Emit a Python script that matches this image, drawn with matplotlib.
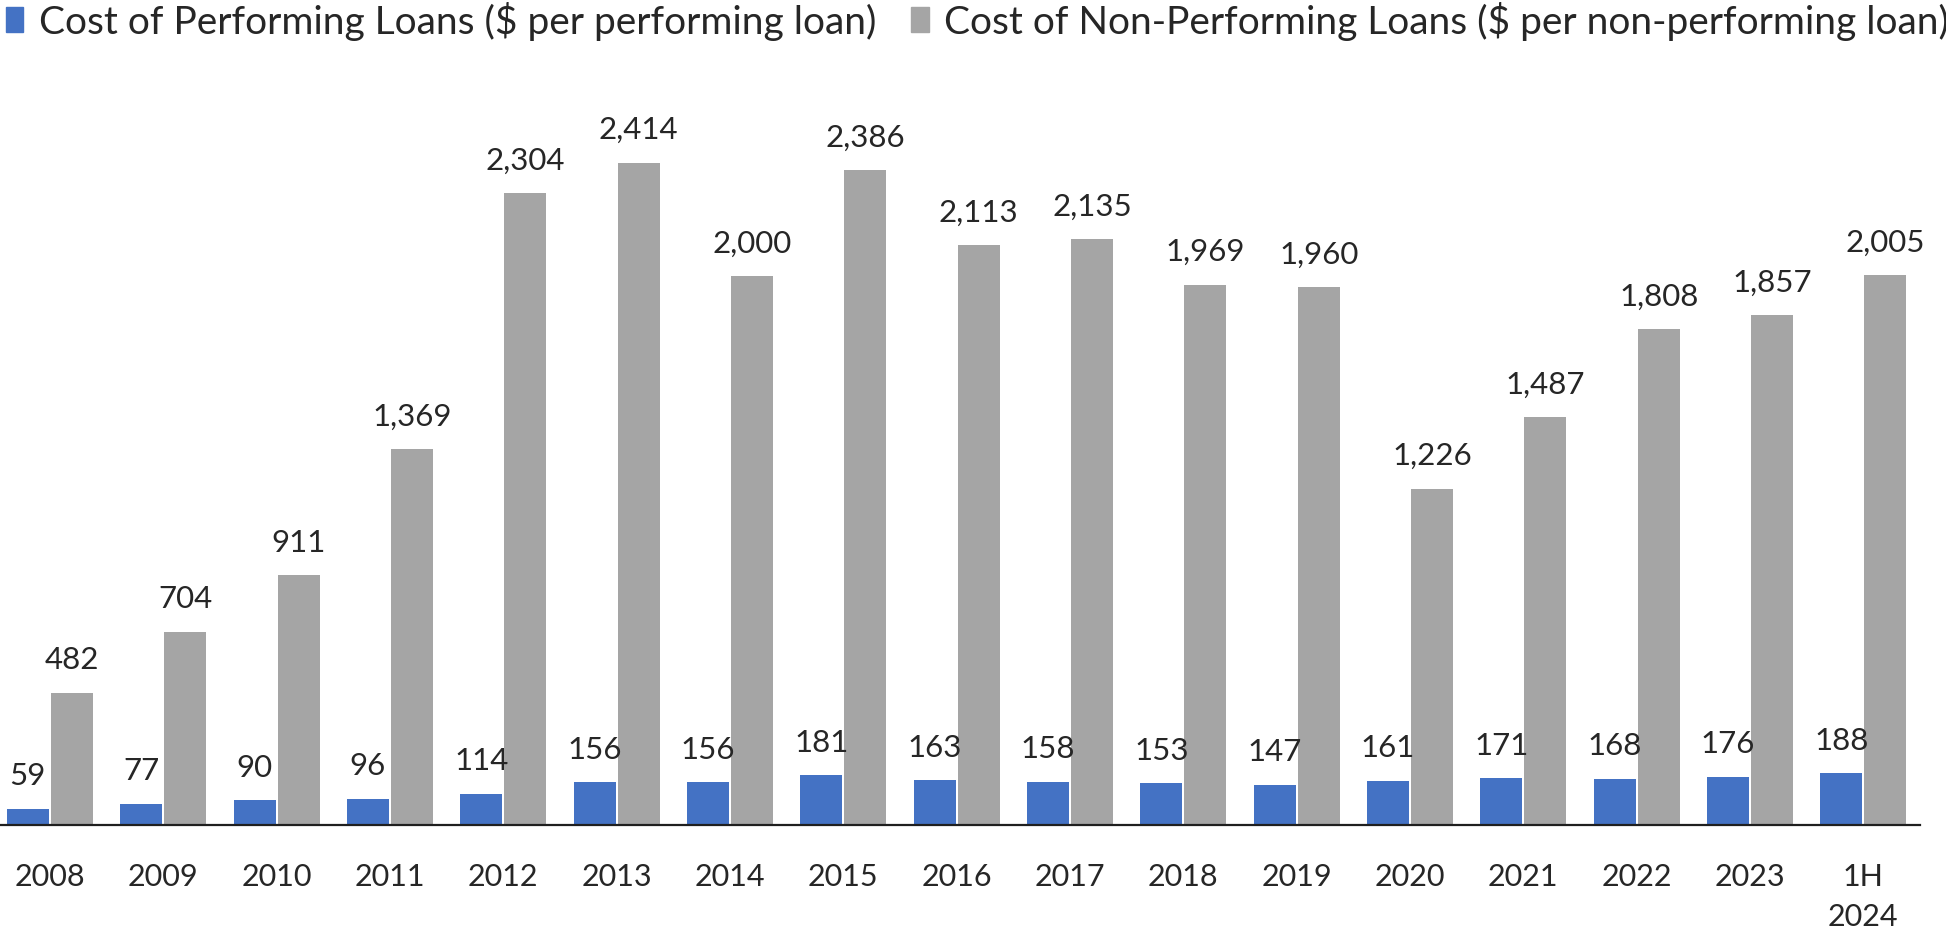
import matplotlib
matplotlib.use("Agg")
import matplotlib.pyplot as plt
from matplotlib.patches import Patch
import numpy as np

categories = ["2008", "2009", "2010", "2011", "2012", "2013", "2014", "2015", "2016",
              "2017", "2018", "2019", "2020", "2021", "2022", "2023", "1H\n2024"]
performing = [59, 77, 90, 96, 114, 156, 156, 181, 163, 158, 153, 147, 161, 171, 168, 176, 188]
non_performing = [482, 704, 911, 1369, 2304, 2414, 2000, 2386, 2113, 2135, 1969, 1960,
                  1226, 1487, 1808, 1857, 2005]
series_names = ["Cost of Performing Loans ($ per performing loan)",
                "Cost of Non-Performing Loans ($ per non-performing loan)"]

BLUE = "#4472C4"
GRAY = "#A5A5A5"
TXT = "#262626"
plt.rcParams['font.family'] = ['Lato', 'DejaVu Sans']

W, H = 1946, 937
fig = plt.figure(figsize=(W / 100, H / 100), dpi=100)
ax = fig.add_axes([0, (H - 826) / H, 1920 / W, 686 / H])

x = np.arange(len(categories))
bw = 0.37
off = 0.195
b1 = ax.bar(x - off, performing, bw, color=BLUE)
b2 = ax.bar(x + off, non_performing, bw, color=GRAY)

for rect, v in zip(b1, performing):
    ax.annotate(f"{v:,}", (rect.get_x() + rect.get_width() / 2, v), xytext=(0, 14),
                textcoords="offset points", ha="center", va="bottom", fontsize=22.5, color=TXT)
for rect, v in zip(b2, non_performing):
    ax.annotate(f"{v:,}", (rect.get_x() + rect.get_width() / 2, v), xytext=(0, 14),
                textcoords="offset points", ha="center", va="bottom", fontsize=22.5, color=TXT)

ax.set_xlim(-0.441, 16.5)
ax.set_ylim(0, 2500)
ax.set_xticks(x)
ax.set_xticklabels(categories, fontsize=22, color=TXT, linespacing=1.5)
ax.tick_params(axis="x", length=0, pad=27)
ax.set_yticks([])
for s in ["top", "right", "left"]:
    ax.spines[s].set_visible(False)
ax.spines["bottom"].set_color("#1f1f1f")
ax.spines["bottom"].set_linewidth(1.6)

handles = [Patch(color=BLUE), Patch(color=GRAY)]
fig.legend(handles, series_names, loc="upper left", bbox_to_anchor=(0.003, 0.998), ncol=2,
           frameon=False, fontsize=28, handlelength=0.45, handleheight=0.6, handletextpad=0.4,
           columnspacing=0.9, borderaxespad=0, borderpad=0.0, labelcolor=TXT)

fig.savefig("out.png", dpi=100)
